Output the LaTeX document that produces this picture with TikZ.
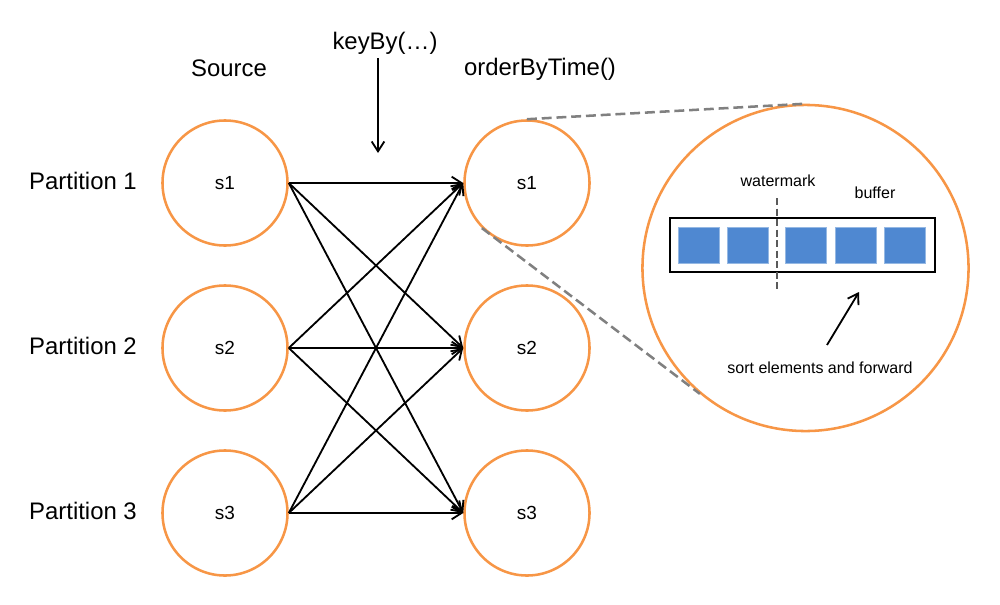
\documentclass[tikz,border=0pt]{standalone}
\usepackage{fontspec}
\setmainfont{Liberation Sans}
\usetikzlibrary{arrows.meta}
\definecolor{carrot}{RGB}{247, 150, 70}
\definecolor{asbestos}{RGB}{128, 128, 128}
\definecolor{wetasphalt}{RGB}{90, 90, 90}
\definecolor{belizehole}{RGB}{79, 136, 209}

\tikzset{
    partnode/.style={circle, draw=carrot, fill=white, line width=1.8pt, minimum size=3.125cm, inner sep=0pt, font=\fontsize{13.5}{16}\selectfont},
    biglabel/.style={anchor=base, font=\fontsize{17}{20}\selectfont},
    smalllabel/.style={anchor=base, font=\fontsize{11.4}{14}\selectfont},
    flow/.style={-{Straight Barb[length=7pt, width=9pt]}, line width=1.3pt},
    zoomline/.style={asbestos, line width=1.8pt, dash pattern=on 7pt off 3.5pt}
}

\begin{document}
\begin{tikzpicture}[x=0.025cm, y=-0.025cm]
            \useasboundingbox (0,0) rectangle (1000,605);

            % labels
            \node[biglabel] (srclabel) at (229, 76) {Source};
            \node[biglabel] (keylabel) at (385, 49) {keyBy(\dots)};
            \node[biglabel] (ordlabel) at (540, 75) {orderByTime()};
            \node[biglabel] (part1)    at ( 83,189) {Partition 1};
            \node[biglabel] (part2)    at ( 83,354) {Partition 2};
            \node[biglabel] (part3)    at ( 83,519) {Partition 3};

            % partitions
            \node[partnode] (src1) at (225,183) {s1};
            \node[partnode] (src2) at (225,348) {s2};
            \node[partnode] (src3) at (225,513) {s3};
            \node[partnode] (ord1) at (527,183) {s1};
            \node[partnode] (ord2) at (527,348) {s2};
            \node[partnode] (ord3) at (527,513) {s3};

            % shuffle
            \draw[flow] (src1.east) -- (ord1.west);
            \draw[flow] (src1.east) -- (ord2.west);
            \draw[flow] (src1.east) -- (ord3.west);
            \draw[flow] (src2.east) -- (ord1.west);
            \draw[flow] (src2.east) -- (ord2.west);
            \draw[flow] (src2.east) -- (ord3.west);
            \draw[flow] (src3.east) -- (ord1.west);
            \draw[flow] (src3.east) -- (ord2.west);
            \draw[flow] (src3.east) -- (ord3.west);

            \coordinate (keytail) at (378, 58);
            \coordinate (keyhead) at (378,153);
            \draw[flow] (keytail) -- (keyhead);

            % zoomed view of the operator
            \node[circle, draw=carrot, fill=white, line width=1.8pt, minimum size=8.15cm, inner sep=0pt] (zoom) at (805.5,268) {};
            \draw[zoomline] (ord1.north) -- (zoom.north);
            \draw[zoomline] (ord1.225)   -- (zoom.230);

            \draw[line width=1.4pt]                        (670,218) rectangle (935,272);
            \filldraw[draw=belizehole!60, fill=belizehole] (678,227) rectangle (719,263);
            \filldraw[draw=belizehole!60, fill=belizehole] (727,227) rectangle (768,263);
            \filldraw[draw=belizehole!60, fill=belizehole] (785,227) rectangle (826,263);
            \filldraw[draw=belizehole!60, fill=belizehole] (835,227) rectangle (876,263);
            \filldraw[draw=belizehole!60, fill=belizehole] (884,227) rectangle (925,263);

            \coordinate (marktop)    at (777,198);
            \coordinate (markbottom) at (777,292);
            \draw[wetasphalt, line width=1.1pt, dash pattern=on 5pt off 2.5pt] (marktop) -- (markbottom);

            \node[smalllabel] (marklabel) at (778,186) {watermark};
            \node[smalllabel] (buflabel)  at (875,198) {buffer};
            \node[smalllabel] (sortlabel) at (820,373) {sort elements and forward};

            \coordinate (sorttail) at (827,345);
            \coordinate (sorthead) at (859,292);
            \draw[flow] (sorttail) -- (sorthead);
        \end{tikzpicture}
\end{document}
